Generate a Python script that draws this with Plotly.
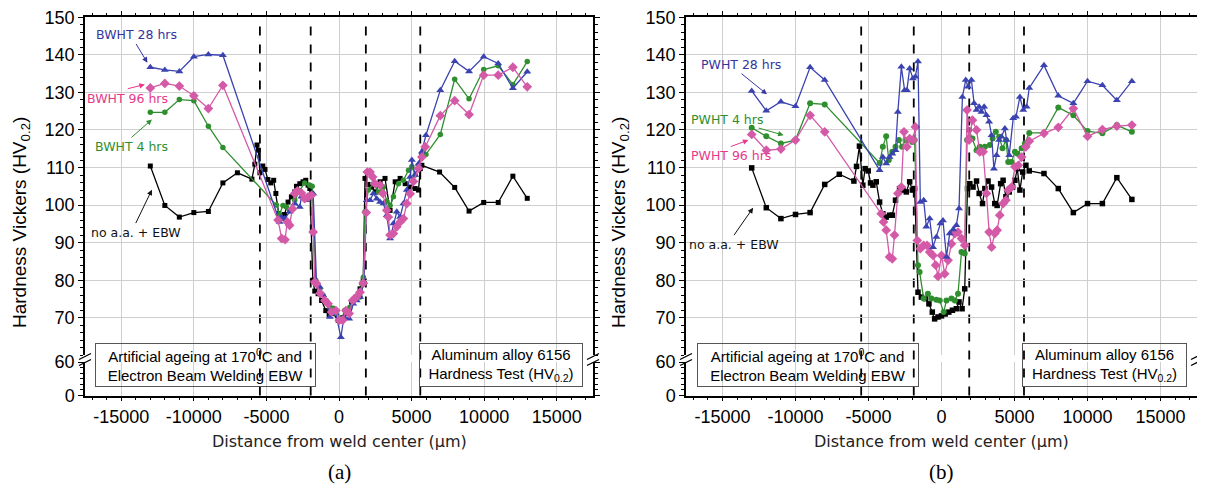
import plotly.graph_objects as go

# ---------------- DATA ----------------
# Panel (a): BWHT series
a_black_x = [-13000,-12000,-11000,-10000,-9000,-8000,-7000,-6000,-5800,-5650,-5550,-5450,-5250,-5100,-4900,-4700,-4500,-4350,-4150,-3950,-3750,-3510,-3280,-3050,-2930,-2700,-2480,-2290,-2130,-2010,-1800,-1670,-1440,-1200,-910,-680,-400,-55,250,525,870,1170,1450,1670,1790,2000,2250,2500,2830,3170,3520,3870,4210,4560,4900,5250,5480,5600,5710,6930,7970,8960,9970,10970,11980,12970]
a_black_y = [110.4,99.9,96.8,98.0,98.3,105.9,108.6,106.9,110.9,116.0,114.6,108.6,110.4,109.5,106.8,105.9,106.6,103.1,97.7,96.5,97.5,100.8,102.2,103.5,105.0,105.7,106.2,106.6,105.3,104.4,80.0,77.1,76.4,74.6,71.9,70.8,71.1,69.3,70.0,71.1,74.2,75.5,77.7,79.9,107.1,105.5,104.8,103.5,106.2,107.1,98.6,106.2,107.1,105.7,104.8,104.4,104.0,109.7,110.6,108.8,104.7,98.4,100.7,100.7,107.7,101.8]

a_blue_x = [-13000,-12000,-11000,-10000,-9000,-8000,-4090,-3970,-3740,-3400,-3050,-2700,-2590,-2240,-2000,-1780,-1550,-1320,-1090,-860,-630,-400,-215,130,340,700,980,1220,1450,1720,1910,2140,2370,2600,2830,3060,3290,3520,3750,3980,4210,4440,4670,4900,5020,5250,5480,5710,5990,6980,7970,8960,9970,10970,11980,12970]
a_blue_y = [136.7,136.0,135.6,139.5,140.1,139.9,95.5,96.8,96.4,98.2,100.4,99.5,102.2,101.3,102.0,103.1,79.5,78.2,76.0,74.2,70.2,71.5,71.1,64.8,70.2,69.7,73.7,74.6,75.5,79.5,101.3,101.3,103.1,101.7,100.8,100.4,97.3,91.1,95.1,98.2,96.8,100.4,104.0,107.5,112.0,108.0,111.0,114.2,118.6,130.6,138.3,135.6,139.5,137.7,131.1,135.5]

a_pink_x = [-13000,-12000,-11000,-10000,-9000,-8000,-4200,-3950,-3720,-3560,-3400,-3200,-3050,-2865,-2590,-2360,-2130,-1900,-1780,-1670,-1550,-1300,-975,-750,-510,-215,15,250,480,700,940,1200,1450,1670,1880,1950,2140,2320,2480,2830,3015,3290,3400,3520,3750,3980,4210,4440,4670,4900,5130,5480,5710,5940,6980,7970,8960,9970,10970,11980,12970]
a_pink_y = [131.2,132.4,131.7,129.1,125.7,131.9,96.0,91.1,90.8,95.5,94.6,99.0,103.1,103.8,103.2,101.7,102.2,102.6,92.8,79.5,79.1,76.5,74.6,73.7,71.5,71.9,69.3,69.3,71.9,71.1,74.6,75.5,76.8,79.2,98.0,108.8,108.8,107.5,105.7,105.3,103.1,98.6,96.8,92.0,92.4,94.2,95.5,96.4,100.4,103.0,106.3,109.8,112.8,115.5,123.8,127.8,124.1,134.6,134.6,136.7,131.5]

a_green_x = [-13000,-12000,-11000,-10000,-9000,-8000,-4315,-4100,-3860,-3625,-3400,-3050,-2700,-2360,-2010,-1850,-1600,-1320,-1100,-860,-630,-400,-215,180,400,750,980,1220,1450,1560,1680,1790,2020,2370,2710,3060,3290,3520,3750,4100,4440,4790,5020,5250,5480,5820,5990,6980,7970,8960,9970,10970,11980,12970]
a_green_y = [124.7,124.7,128.1,127.8,121.0,115.3,100.0,97.5,99.9,99.5,98.5,101.3,103.9,105.9,105.3,105.0,80.0,77.7,76.0,74.5,72.8,72.5,71.1,69.7,72.0,72.8,74.5,75.0,75.5,79.1,80.8,98.2,104.0,105.7,103.5,104.8,101.0,99.9,102.2,105.7,106.6,109.3,110.2,108.0,110.6,114.6,113.5,118.8,133.5,128.3,136.1,137.1,132.1,138.2]

# Panel (b): PWHT series
b_black_x = [-13000,-12000,-11000,-10000,-9000,-8000,-7000,-6000,-5820,-5620,-5390,-5230,-5020,-4860,-4700,-4470,-4240,-4020,-3790,-3560,-3370,-3150,-2870,-2640,-2410,-2180,-2000,-1840,-1610,-1380,-1090,-860,-630,-470,-240,0,250,500,750,1020,1200,1410,1590,1780,1940,2160,2400,2580,2810,2970,3190,3430,3650,3810,4050,4220,4410,4640,4870,5030,5190,5370,5560,5780,6010,7020,8000,9030,10000,11020,12010,13040]
b_black_y = [109.9,99.3,96.4,97.5,98.0,105.5,108.2,106.4,110.3,115.7,105.3,109.7,109.1,105.9,105.3,106.2,100.8,97.7,96.8,97.3,97.3,101.3,104.4,104.0,103.5,106.2,104.0,104.4,76.8,75.5,75.1,73.7,71.5,69.7,70.2,70.5,71.0,71.5,72.0,72.4,74.2,72.4,77.7,104.4,105.7,104.8,106.4,103.1,100.4,104.4,106.4,104.8,100.4,99.9,105.7,106.6,102.2,103.5,104.8,106.6,109.7,104.0,108.8,110.6,109.1,108.4,104.4,98.0,100.4,100.4,107.3,101.5]

b_blue_x = [-13000,-12000,-11000,-10000,-9000,-8000,-4240,-4020,-3790,-3560,-3370,-3150,-2990,-2750,-2530,-2370,-2180,-1960,-1790,-1610,-1450,-1220,-1040,-810,-580,-350,-75,100,340,560,800,1020,1200,1430,1660,1820,2050,2230,2400,2580,2740,2920,3080,3260,3430,3590,3770,3950,4110,4340,4460,4640,4910,5100,5370,5600,5830,6010,7020,8000,9030,10000,11020,12010,13040]
b_blue_y = [130.4,125.1,127.5,126.3,136.7,133.3,109.3,112.8,111.1,112.8,113.7,114.6,124.8,136.8,130.6,130.6,136.4,133.7,134.2,138.2,100.8,101.3,94.2,96.4,88.8,91.5,95.1,95.9,86.2,92.4,93.5,94.6,99.1,128.8,133.3,131.5,133.3,127.1,125.3,126.2,124.8,126.2,123.9,122.2,118.6,109.7,113.3,117.3,118.2,120.4,117.3,113.3,123.1,123.5,128.8,125.3,126.2,131.2,137.2,129.1,127.1,133.0,131.9,127.9,133.0]

b_green_x = [-13000,-12000,-11000,-10000,-9000,-8000,-4240,-4020,-3790,-3610,-3370,-3150,-2920,-2700,-2470,-2250,-2000,-1840,-1610,-1500,-1220,-930,-690,-350,-120,150,340,680,910,1130,1370,1590,1750,1890,2120,2400,2620,2970,3310,3500,3720,3950,4180,4410,4570,4800,5030,5210,5490,5710,6010,7020,8000,9030,10000,11020,12010,13040]
b_green_y = [120.6,118.3,116.4,117.3,127.1,126.8,111.2,115.5,118.3,112.0,114.2,115.5,117.3,115.5,117.3,117.3,116.8,117.3,84.0,82.2,75.1,76.4,75.1,74.8,74.6,71.5,74.6,75.1,74.6,76.4,87.5,87.1,117.3,120.0,117.7,114.6,115.5,115.5,116.0,117.7,119.5,118.2,115.1,117.3,111.5,111.5,114.2,113.7,115.1,116.4,119.2,119.2,126.0,123.9,119.7,119.1,121.3,119.5]

b_pink_x = [-13000,-12000,-11000,-10000,-9000,-8000,-4130,-3970,-3790,-3560,-3370,-3220,-2990,-2750,-2570,-2370,-2180,-1960,-1790,-1660,-1450,-1220,-990,-810,-580,-400,-240,0,220,450,680,910,1130,1370,1590,1750,1890,2120,2400,2620,2850,3080,3260,3430,3650,3810,3990,4220,4410,4570,4800,5030,5260,5490,5780,6010,7020,8000,9030,10000,11020,12010,13040]
b_pink_y = [118.8,114.6,114.9,117.3,123.9,119.5,97.7,95.5,93.3,86.2,85.7,92.0,103.1,104.8,119.5,115.5,117.7,117.3,120.8,90.6,88.4,89.3,89.3,87.5,86.6,84.0,81.0,86.6,81.7,85.3,89.7,92.4,92.8,91.1,89.3,125.3,117.3,122.6,120.0,114.2,114.2,103.1,92.8,88.8,92.4,93.3,97.3,100.4,101.3,104.0,104.8,110.2,110.6,112.8,115.5,117.0,119.1,120.7,125.7,118.3,120.1,121.0,121.3]

a_dashed_x = [-5450, -1950, 1850, 5600]
b_dashed_x = [-5500, -1900, 1900, 5650]

upper_ticks = [70, 80, 90, 100, 110, 120, 130, 140, 150]
lower_ticks = [0, 60]
x_ticks = [-15000, -10000, -5000, 0, 5000, 10000, 15000]
x_ticktext = ["-15000", "-10000", "-5000", "0", "5000", "10000", "15000"]

for xs, ys in [(a_black_x, a_black_y), (a_blue_x, a_blue_y), (a_pink_x, a_pink_y), (a_green_x, a_green_y),
               (b_black_x, b_black_y), (b_blue_x, b_blue_y), (b_green_x, b_green_y), (b_pink_x, b_pink_y)]:
    assert len(xs) == len(ys), (len(xs), len(ys))

# ---------------- STYLE ----------------
# The page adds an 8 px body margin, so the figure is drawn 8 px smaller and
# all target pixel positions (in the 1205x488 window) are offset by 8 px.
OFF = 8
W, H = 1205 - OFF, 488 - OFF
FONT = "Liberation Sans, Arial, sans-serif"
BLACK = "#000000"
BLUE = "#3b43b0"
PINK = "#d45aa8"
GREEN = "#2f8f2f"

def fx(px):
    return (px - OFF) / W

def fy(py):
    return 1 - (py - OFF) / H

UP_DOM = [fy(355.3), fy(17.3)]
LO_DOM = [fy(395.5), fy(362.0)]
A_DOM = [fx(85), fx(593)]
B_DOM = [fx(686), fx(1197)]

fig = go.Figure()

def add_series(xs, ys, color, symbol, size, xa, ya, name):
    fig.add_trace(go.Scatter(
        x=xs, y=ys, mode="lines+markers", name=name, showlegend=False,
        line=dict(color=color, width=1.3),
        marker=dict(color=color, symbol=symbol, size=size, line=dict(width=0)),
        xaxis=xa, yaxis=ya, cliponaxis=False))

# panel a
add_series(a_black_x, a_black_y, BLACK, "square", 5, "x", "y", "no a.a. + EBW")
add_series(a_green_x, a_green_y, GREEN, "circle", 5.5, "x", "y", "BWHT 4 hrs")
add_series(a_blue_x, a_blue_y, BLUE, "triangle-up", 7, "x", "y", "BWHT 28 hrs")
add_series(a_pink_x, a_pink_y, PINK, "diamond", 7.5, "x", "y", "BWHT 96 hrs")
# panel b
add_series(b_black_x, b_black_y, BLACK, "square", 5.5, "x2", "y3", "no a.a. + EBW")
add_series(b_green_x, b_green_y, GREEN, "circle", 6, "x2", "y3", "PWHT 4 hrs")
add_series(b_pink_x, b_pink_y, PINK, "diamond", 7.5, "x2", "y3", "PWHT 96 hrs")
add_series(b_blue_x, b_blue_y, BLUE, "triangle-up", 7, "x2", "y3", "PWHT 28 hrs")

# empty traces that create the lower (broken) axis segments
for xa, ya in [("x3", "y2"), ("x4", "y4")]:
    fig.add_trace(go.Scatter(x=[None], y=[None], xaxis=xa, yaxis=ya,
                             showlegend=False, hoverinfo="skip"))

tickfont = dict(family=FONT, size=18, color="black")
GRID = "#cfcfcf"

def top_x(domain, anchor):
    return dict(domain=domain, anchor=anchor, side="top", range=[-17500, 17500],
                tickmode="array", tickvals=x_ticks, showticklabels=False, ticks="outside", ticklen=5,
                tickcolor="black", showline=True, linecolor="black", linewidth=1.5,
                showgrid=True, gridcolor=GRID, gridwidth=1, zeroline=False, automargin=False,
                minor=dict(dtick=1000, tick0=0, ticks="outside", ticklen=3, tickcolor="black", showgrid=False))

def bot_x(domain, anchor):
    return dict(domain=domain, anchor=anchor, side="bottom", range=[-17500, 17500],
                tickmode="array", tickvals=x_ticks, ticktext=x_ticktext, showticklabels=True,
                tickfont=tickfont, ticks="outside", ticklabeloverflow="allow",
                ticklen=4, tickcolor="black", showline=True, linecolor="black", linewidth=1.5,
                showgrid=True, gridcolor=GRID, gridwidth=1, zeroline=False, automargin=False,
                minor=dict(dtick=1000, tick0=0, ticks="outside", ticklen=3, tickcolor="black", showgrid=False))

def up_y(anchor):
    return dict(domain=UP_DOM, anchor=anchor, range=[60, 150], tickmode="array", tickvals=upper_ticks,
                tickfont=tickfont, ticks="outside", ticklen=5, tickcolor="black",
                ticklabeloverflow="allow",
                showline=True, linecolor="black", linewidth=1.5, mirror="ticks",
                showgrid=True, gridcolor=GRID, gridwidth=1, zeroline=False, automargin=False,
                minor=dict(dtick=2, tick0=60, ticks="outside", ticklen=3, tickcolor="black", showgrid=False))

def lo_y(anchor):
    return dict(domain=LO_DOM, anchor=anchor, range=[0, 60], tickmode="array", tickvals=lower_ticks,
                tickfont=tickfont, ticks="outside", ticklen=5, tickcolor="black",
                ticklabeloverflow="allow",
                showline=True, linecolor="black", linewidth=1.5, mirror="ticks",
                showgrid=False, zeroline=False, automargin=False,
                minor=dict(dtick=10, tick0=0, ticks="outside", ticklen=3, tickcolor="black", showgrid=False))

fig.update_layout(
    width=W, height=H, margin=dict(l=0, r=0, t=0, b=0, pad=0, autoexpand=False),
    paper_bgcolor="white", plot_bgcolor="white",
    font=dict(family=FONT, color="black"),
    xaxis=top_x(A_DOM, "y"), xaxis2=top_x(B_DOM, "y3"),
    xaxis3=bot_x(A_DOM, "y2"), xaxis4=bot_x(B_DOM, "y4"),
    yaxis=up_y("x"), yaxis2=lo_y("x3"),
    yaxis3=up_y("x2"), yaxis4=lo_y("x4"),
)

shapes = []
# vertical dashed boundary lines
for xv in a_dashed_x:
    shapes.append(dict(type="line", xref="x", yref="paper", x0=xv, x1=xv, y0=LO_DOM[0], y1=fy(19),
                       line=dict(color="black", width=1.8, dash="dash"), layer="between"))
for xv in b_dashed_x:
    shapes.append(dict(type="line", xref="x2", yref="paper", x0=xv, x1=xv, y0=LO_DOM[0], y1=fy(19),
                       line=dict(color="black", width=1.8, dash="dash"), layer="between"))
# axis-break marks
for axp in [85, 593, 686, 1197]:
    for pyc in [356.5, 362.5]:
        shapes.append(dict(type="line", xref="paper", yref="paper",
                           x0=fx(axp - 6), y0=fy(pyc + 3), x1=fx(axp + 6), y1=fy(pyc - 3),
                           line=dict(color="black", width=1.3)))
fig.update_layout(shapes=shapes)

ann = []
# axis titles
for xc in [21, 620]:
    ann.append(dict(text="Hardness Vickers (HV<sub>0.2</sub>)", xref="paper", yref="paper",
                    x=fx(xc), y=fy(223), xanchor="center", yanchor="middle", textangle=-90,
                    showarrow=False, font=dict(family=FONT, size=19, color="black")))
for xc, lab in [(339, "(a)"), (941.5, "(b)")]:
    ann.append(dict(text="Distance from weld center (μm)", xref="paper", yref="paper",
                    x=fx(xc), y=fy(441), xanchor="center", yanchor="middle", showarrow=False,
                    font=dict(family="DejaVu Sans, sans-serif", size=16, color="#222")))
    ann.append(dict(text=lab, xref="paper", yref="paper", x=fx(xc), y=fy(472),
                    xanchor="center", yanchor="middle", showarrow=False,
                    font=dict(family="Liberation Serif, Times New Roman, serif", size=21, color="black")))

# info boxes
boxes = [
    (95, 316, "Artificial ageing at 170<sup>0</sup>C and<br>Electron Beam Welding EBW"),
    (419, 583, "Aluminum alloy 6156<br>Hardness Test (HV<sub>0.2</sub>)"),
    (697, 919, "Artificial ageing at 170<sup>0</sup>C and<br>Electron Beam Welding EBW"),
    (1022, 1187, "Aluminum alloy 6156<br>Hardness Test (HV<sub>0.2</sub>)"),
]
for x0, x1, txt in boxes:
    ann.append(dict(text=txt, xref="paper", yref="paper", x=fx((x0 + x1) / 2), y=fy(365),
                    xanchor="center", yanchor="middle", showarrow=False,
                    width=x1 - x0 - 2, height=42, borderpad=0, bordercolor="#555", borderwidth=1,
                    bgcolor="rgba(255,255,255,0)", align="center",
                    font=dict(family=FONT, size=15, color="black")))

LBL = "DejaVu Sans, sans-serif"
# series labels with arrows (data coordinates): text anchored at the arrow tail
labels = [
    # xref, yref, text, color, tail (x,y), head (x,y), xanchor, yanchor
    ("x", "y", "BWHT 28 hrs", "#3535a0", (-13980, 142.9), (-13200, 137.9), "center", "bottom"),
    ("x", "y", "BWHT 96 hrs", "#e8388a", (-14550, 131.0), (-13380, 132.1), "center", "top"),
    ("x", "y", "BWHT 4 hrs", "#2e8f2e", (-14300, 118.0), (-12890, 122.8), "center", "top"),
    ("x", "y", "no a.a. + EBW", "#111111", (-14000, 95.2), (-12890, 104.1), "center", "top"),
    ("x2", "y3", "PWHT 28 hrs", "#3535a0", (-13700, 135.0), (-11957, 129.5), "center", "bottom"),
    ("x2", "y3", "PWHT 4 hrs", "#2e8f2e", (-14663, 122.9), (-10817, 118.6), "center", "middle"),
    ("x2", "y3", "PWHT 96 hrs", "#e8388a", (-14430, 115.6), (-13221, 117.3), "center", "top"),
    ("x2", "y3", "no a.a. + EBW", "#111111", (-14210, 92.0), (-12900, 99.3), "center", "top"),
]
for xr, yr, txt, col, tail, head, xan, yan in labels:
    ann.append(dict(text=txt, xref=xr, yref=yr, x=head[0], y=head[1], axref=xr, ayref=yr,
                    ax=tail[0], ay=tail[1], xanchor=xan, yanchor=yan,
                    showarrow=True, arrowhead=2, arrowsize=1.1,
                    arrowwidth=1, arrowcolor=col, standoff=0, borderpad=1,
                    font=dict(family=LBL, size=12.5, color=col)))
fig.update_layout(annotations=ann)

fig.write_html("out.html")
